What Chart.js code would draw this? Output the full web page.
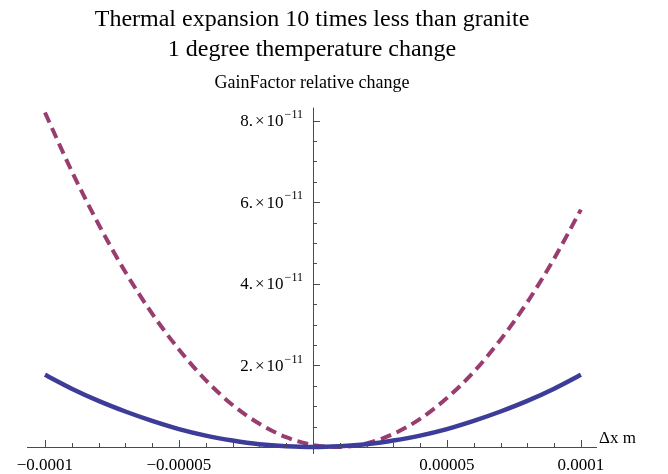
<!DOCTYPE html>
<html lang="en">
<head>
  <meta charset="UTF-8">
  <title>GainFactor relative change</title>
  <script src="https://cdn.jsdelivr.net/npm/chart.js"></script>
  <style>
    body {
      margin: 0;
      padding: 0;
      background: #ffffff;
    }
    .wrap {
      width: 668px;
      height: 474px;
    }
  </style>
</head>
<body>
  <div class="wrap">
    <canvas id="gainChart" width="668" height="474"></canvas>
  </div>

  <script>
    // displacement in metres
    const xValues = [-0.0001, -0.00009, -0.00008, -0.00007, -0.00006, -0.00005, -0.00004,
      -0.00003, -0.00002, -0.00001, 0, 0.00001, 0.00002, 0.00003, 0.00004, 0.00005,
      0.00006, 0.00007, 0.00008, 0.00009, 0.0001];
    // relative change, in units of 1e-11
    const solidSeries = [1.77, 1.43, 1.13, 0.87, 0.64, 0.44, 0.28, 0.16, 0.07, 0.02, 0,
      0.02, 0.07, 0.16, 0.28, 0.44, 0.64, 0.87, 1.13, 1.43, 1.77];
    const dashedSeries = [8.20, 6.76, 5.46, 4.29, 3.27, 2.39, 1.64, 1.03, 0.57, 0.24, 0.05,
      0.00, 0.09, 0.32, 0.69, 1.20, 1.84, 2.63, 3.55, 4.62, 5.82];

    const xTickValues = [-0.0001, -0.00005, 0.00005, 0.0001];
    const xTickLabels = ['\u22120.0001', '\u22120.00005', '0.00005', '0.0001'];
    const yTickValues = [2, 4, 6, 8];
    const yTickLabels = ['2.', '4.', '6.', '8.'];

    const serif = "'Liberation Serif', 'DejaVu Serif', serif";
    const axisColor = '#4a4a4a';

    const toPoints = ys => xValues.map((x, i) => ({ x: x, y: ys[i] }));

    // Mathematica-style axes crossing at the origin
    const centerAxes = {
      id: 'centerAxes',
      afterDatasetsDraw(chart) {
        const ctx = chart.ctx;
        const xs = chart.scales.x;
        const ys = chart.scales.y;
        const x0 = xs.getPixelForValue(0);
        const y0 = ys.getPixelForValue(0);

        ctx.save();
        ctx.strokeStyle = axisColor;
        ctx.lineWidth = 1;
        ctx.beginPath();
        ctx.moveTo(xs.left, y0 + 0.5);
        ctx.lineTo(xs.right, y0 + 0.5);
        ctx.moveTo(Math.round(x0) + 0.5, y0 + 7);
        ctx.lineTo(Math.round(x0) + 0.5, ys.top);

        // x ticks (pointing up)
        for (let k = -10; k <= 10; k++) {
          if (k === 0) continue;
          const px = Math.round(xs.getPixelForValue(k * 0.00001)) + 0.5;
          const len = k % 5 === 0 ? 7 : 4;
          ctx.moveTo(px, y0);
          ctx.lineTo(px, y0 - len);
        }
        // y ticks (pointing right)
        for (let k = 1; k <= 16; k++) {
          const py = Math.round(ys.getPixelForValue(k * 0.5)) + 0.5;
          const len = k % 4 === 0 ? 7 : 4;
          ctx.moveTo(x0, py);
          ctx.lineTo(x0 + len, py);
        }
        ctx.stroke();

        ctx.fillStyle = '#000';
        // x tick labels
        ctx.font = '17px ' + serif;
        ctx.textAlign = 'center';
        ctx.textBaseline = 'middle';
        xTickValues.forEach((v, i) => {
          ctx.fillText(xTickLabels[i], xs.getPixelForValue(v), y0 + 19);
        });

        // axis label
        ctx.textAlign = 'left';
        ctx.fillText('\u0394x m', xs.right + 2, y0 - 8);

        // y tick labels: mantissa × 10^-11
        ctx.textAlign = 'right';
        yTickValues.forEach((v, i) => {
          const py = ys.getPixelForValue(v);
          let right = x0 - 10;
          ctx.font = '12px ' + serif;
          ctx.fillText('\u221211', right, py - 6);
          right -= ctx.measureText('\u221211').width + 1;
          ctx.font = '17px ' + serif;
          ctx.fillText('10', right, py + 1);
          right -= ctx.measureText('10').width + 2;
          ctx.fillText('\u00d7', right, py + 1);
          right -= ctx.measureText('\u00d7').width + 2;
          ctx.fillText(yTickLabels[i], right, py + 1);
        });
        ctx.restore();
      }
    };

    const ctx = document.getElementById('gainChart').getContext('2d');
    const gainChart = new Chart(ctx, {
      type: 'line',
      data: {
        datasets: [
          {
            label: 'solid',
            data: toPoints(solidSeries),
            borderColor: '#3d3d99',
            borderWidth: 4.5,
            pointRadius: 0,
            cubicInterpolationMode: 'monotone',
            clip: false,
            fill: false
          },
          {
            label: 'dashed',
            data: toPoints(dashedSeries),
            borderColor: '#993d71',
            borderWidth: 4,
            borderDash: [11, 6],
            pointRadius: 0,
            cubicInterpolationMode: 'monotone',
            clip: false,
            fill: false
          }
        ]
      },
      options: {
        responsive: false,
        animation: false,
        layout: {
          padding: { left: 27, right: 71, top: 0, bottom: 27 }
        },
        scales: {
          x: { type: 'linear', min: -0.0001067, max: 0.000106, display: false },
          y: { type: 'linear', min: 0, max: 8.32, display: false }
        },
        plugins: {
          legend: { display: false },
          tooltip: { enabled: false },
          title: {
            display: true,
            text: ['Thermal expansion 10 times less than granite', '1 degree themperature change'],
            color: '#000',
            font: { family: serif, size: 24, weight: 'normal', lineHeight: 1.25 },
            padding: { top: 5, bottom: 0 }
          },
          subtitle: {
            display: true,
            text: 'GainFactor relative change',
            color: '#000',
            font: { family: serif, size: 18, weight: 'normal', lineHeight: 1.2 },
            padding: { top: 7, bottom: 14 }
          }
        }
      },
      plugins: [centerAxes]
    });
  </script>
</body>
</html>
